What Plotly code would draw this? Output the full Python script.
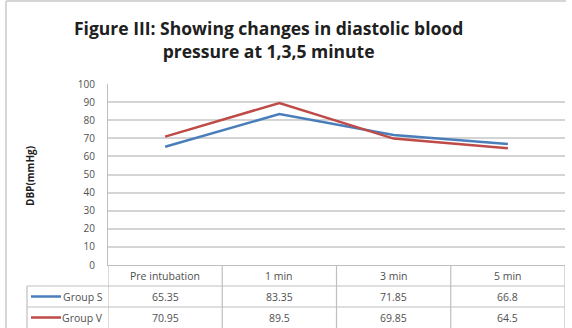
import plotly.graph_objects as go

categories = ["Pre intubation", "1 min", "3 min", "5 min"]
group_s = [65.35, 83.35, 71.85, 66.8]
group_v = [70.95, 89.5, 69.85, 64.5]
series_names = ["Group S", "Group V"]
y_ticks = list(range(0, 101, 10))
title_text = "Figure III: Showing changes in diastolic blood<br>pressure at 1,3,5 minute"
y_title = "DBP(mmHg)"

W, H = 572, 328
L, R, T, B = 108, 565, 84, 265
colors = ["#4a7ebb", "#be4b48"]
grid = "#d4d4d4"
border = "#bfbfbf"
txt = "#505050"
font = "Open Sans"

def px(x):
    return (x - L) / (R - L)

def py(y):
    return (B - y) / (B - T)

fig = go.Figure()
xs = list(range(len(categories)))
for name, vals, c in zip(series_names, [group_s, group_v], colors):
    fig.add_trace(go.Scatter(x=xs, y=vals, mode="lines", name=name,
                             line=dict(color=c, width=2.5), showlegend=False))

shapes = []
# outer frame pieces
shapes.append(dict(type="line", xref="paper", yref="paper", x0=px(6), x1=px(6), y0=py(1), y1=py(328),
                   line=dict(color="#c8c8c8", width=1.5)))
shapes.append(dict(type="line", xref="paper", yref="paper", x0=px(6), x1=px(566), y0=py(1), y1=py(1),
                   line=dict(color="#c8c8c8", width=1.5)))
# table vertical lines in x-axis coordinates
for b in [-0.5, 0.5, 1.5, 2.5, 3.5]:
    shapes.append(dict(type="line", xref="x", yref="paper", x0=b, x1=b, y0=py(265), y1=py(328),
                       line=dict(color=border, width=1.2)))
# horizontal table lines
for yy in [286, 307]:
    shapes.append(dict(type="line", xref="paper", yref="paper", x0=px(27), x1=px(565), y0=py(yy), y1=py(yy),
                       line=dict(color=border, width=1.2)))
shapes.append(dict(type="line", xref="paper", yref="paper", x0=px(27), x1=px(27), y0=py(286), y1=py(328),
                   line=dict(color=border, width=1.2)))
# legend keys
row_y = [296.5, 317.5]
for c, yy in zip(colors, row_y):
    shapes.append(dict(type="line", xref="paper", yref="paper", x0=px(31), x1=px(61), y0=py(yy), y1=py(yy),
                       line=dict(color=c, width=2.5)))

annotations = []
annotations.append(dict(text="<b>" + title_text + "</b>", xref="paper", yref="paper",
                        x=px(268), y=py(39), showarrow=False, xanchor="center", yanchor="middle",
                        font=dict(family=font, size=17.5, color="#202020"), align="center"))
annotations.append(dict(text="<b>" + y_title + "</b>", xref="paper", yref="paper", x=px(30), y=py(176),
                        xanchor="center", yanchor="middle",
                        textangle=-90, showarrow=False, font=dict(family=font, size=10, color="#202020")))
for i, cat in enumerate(categories):
    annotations.append(dict(text=cat, xref="x", yref="paper", x=i, y=py(276), showarrow=False,
                            xanchor="center", yanchor="middle",
                            font=dict(family=font, size=10.5, color=txt)))
for vals, yy in zip([group_s, group_v], row_y):
    for i, v in enumerate(vals):
        annotations.append(dict(text=f"{v:g}", xref="x", yref="paper", x=i, y=py(yy), showarrow=False,
                                xanchor="center", yanchor="middle",
                                font=dict(family=font, size=10.5, color=txt)))
for name, yy in zip(series_names, row_y):
    annotations.append(dict(text=name, xref="paper", yref="paper", x=px(105), y=py(yy), xanchor="right",
                            yanchor="middle",
                            showarrow=False, font=dict(family=font, size=10.5, color=txt)))

fig.update_layout(
    width=W, height=H,
    margin=dict(l=L, r=W - R, t=T, b=H - B),
    paper_bgcolor="white", plot_bgcolor="white",
    xaxis=dict(range=[-0.5, 3.5], showticklabels=False, showgrid=False, zeroline=False,
               showline=True, linecolor=border, linewidth=1.2, ticks="", fixedrange=True),
    yaxis=dict(range=[0, 100], tickvals=y_ticks, showgrid=True, gridcolor=grid, gridwidth=1.8,
               zeroline=False, showline=True, linecolor=border, linewidth=1.2,
               tickfont=dict(family=font, size=10, color=txt), ticks="", ticklabelstandoff=10),
    shapes=shapes, annotations=annotations,
)

fig.write_html("out.html", config={"displayModeBar": False},
               post_script="document.body.style.margin='0px';document.body.style.overflow='hidden';")
